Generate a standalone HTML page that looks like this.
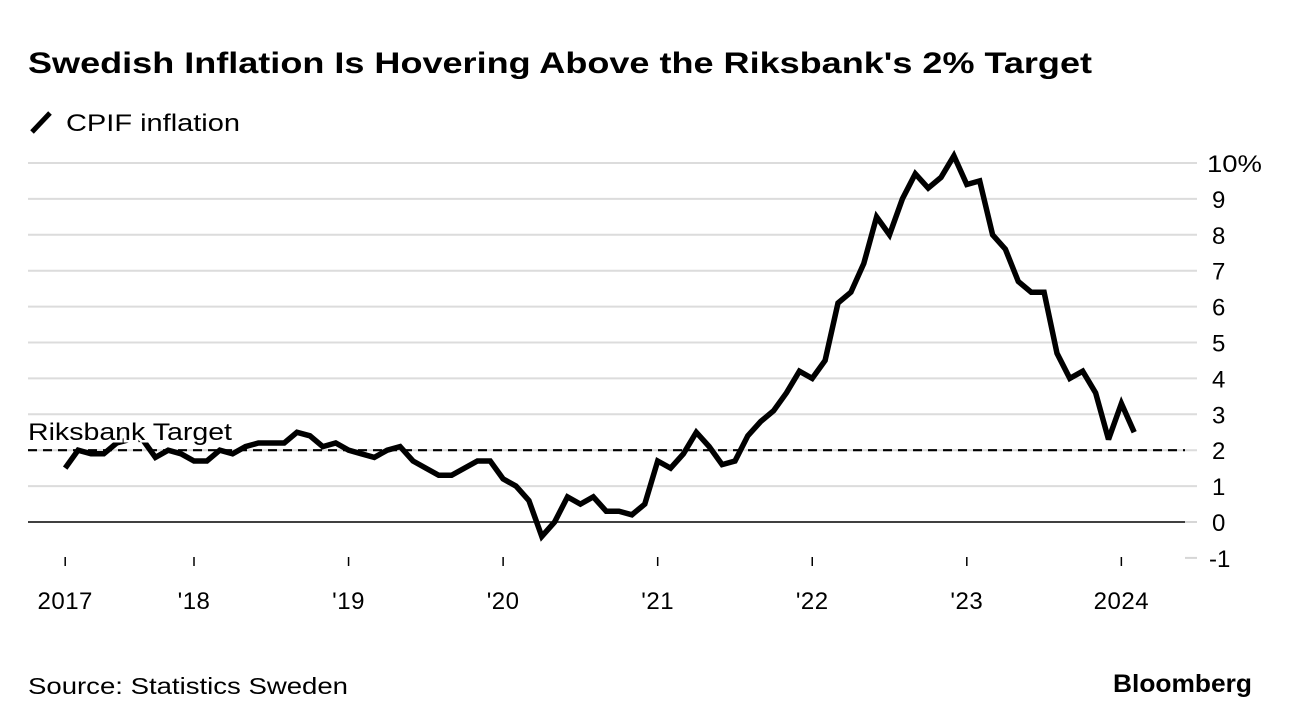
<!DOCTYPE html>
<html><head><meta charset="utf-8"><style>
body{margin:0;background:#fff;}
svg{display:block;font-family:"Liberation Sans",Arial,sans-serif;}
</style></head><body>
<svg id="chart" width="1292" height="726" viewBox="0 0 1292 726">
<text x="28" y="73" font-size="30" font-weight="bold" fill="#000" textLength="1064" lengthAdjust="spacingAndGlyphs">Swedish Inflation Is Hovering Above the Riksbank's 2% Target</text>
<line x1="32" y1="132" x2="50" y2="113" stroke="#000" stroke-width="5"/>
<text x="66" y="131" font-size="24" fill="#000" textLength="174" lengthAdjust="spacingAndGlyphs">CPIF inflation</text>
<g id="grid"></g>
<g id="yticks"></g>
<g id="xticks"></g>
<g id="series"></g>
<line id="target" x1="28" x2="1185" stroke="#000" stroke-width="2.2" stroke-dasharray="9,6"/>
<text id="targetLabel" x="28" y="440" font-size="24" fill="#000" stroke="#fff" stroke-width="5" paint-order="stroke" textLength="204" lengthAdjust="spacingAndGlyphs">Riksbank Target</text>
<text x="28" y="694" font-size="23" fill="#000" textLength="320" lengthAdjust="spacingAndGlyphs">Source: Statistics Sweden</text>
<text x="1113" y="692" font-size="25" font-weight="bold" fill="#000" textLength="139" lengthAdjust="spacingAndGlyphs">Bloomberg</text>
</svg>
<script>
const values = [1.5,2.0,1.9,1.9,2.2,2.3,2.3,1.8,2.0,1.9,
1.7,1.7,2.0,1.9,2.1,2.2,2.2,2.2,2.5,2.4,2.1,2.2,
2.0,1.9,1.8,2.0,2.1,1.7,1.5,1.3,1.3,1.5,1.7,1.7,
1.2,1.0,0.6,-0.4,0.0,0.7,0.5,0.7,0.3,0.3,0.2,0.5,
1.7,1.5,1.9,2.5,2.1,1.6,1.7,2.4,2.8,3.1,3.6,4.2,
4.0,4.5,6.1,6.4,7.2,8.5,8.0,9.0,9.7,9.3,9.6,10.2,
9.4,9.5,8.0,7.6,6.7,6.4,6.4,4.7,4.0,4.2,3.6,2.3,
3.3,2.5];
const startMonth = -10; // months relative to Jan 2018 (Mar 2017)
const yTicks = [-1,0,1,2,3,4,5,6,7,8,9,10];
const xTickMonths = [-10,0,12,24,36,48,60,72];
const xTickLabels = ["2017","'18","'19","'20","'21","'22","'23","2024"];
const targetValue = 2;

const NS="http://www.w3.org/2000/svg";
function x(m){return 194+m*12.88;}
function y(v){return 522-v*35.9;}
function mk(tag,attrs,parent){const e=document.createElementNS(NS,tag);for(const k in attrs)e.setAttribute(k,attrs[k]);document.getElementById(parent).appendChild(e);return e;}

yTicks.forEach(v=>{
  let l;
  if(v===-1){l=mk('line',{x1:1185,x2:1197,y1:y(v),y2:y(v),stroke:'#d6d6d6','stroke-width':2},'grid');}
  else if(v===0){
    mk('line',{x1:1185,x2:1197,y1:y(v),y2:y(v),stroke:'#d6d6d6','stroke-width':2},'grid');
    l=mk('line',{x1:28,x2:1185,y1:y(v),y2:y(v),stroke:'#000','stroke-width':1.5},'grid');}
  else l=mk('line',{x1:28,x2:1197,y1:y(v),y2:y(v),stroke:'#dcdcdc','stroke-width':2},'grid');
  
  
  const t=mk('text',{x:(v===10?1207:(v===-1?1209:1212)),y:y(v)+9,'font-size':24,fill:'#000'},'yticks');
  t.textContent = v===10 ? '10%' : String(v);
  if(v===10){t.setAttribute('textLength','55');t.setAttribute('lengthAdjust','spacingAndGlyphs');}
  
  
});
xTickMonths.forEach((m,i)=>{
  const tk=mk('line',{x1:x(m),x2:x(m),y1:557,y2:566,stroke:'#000','stroke-width':1.5},'xticks');
  
  
  const t=mk('text',{x:x(m),y:609,'font-size':24,fill:'#000','text-anchor':'middle','letter-spacing':'0.5'},'xticks');
  t.textContent=xTickLabels[i];
  
  
});
const pts=values.map((v,i)=>x(startMonth+i).toFixed(1)+','+y(v).toFixed(1)).join(' ');
const pl=mk('polyline',{points:pts,fill:'none',stroke:'#000','stroke-width':5.5,'stroke-linejoin':'miter','stroke-miterlimit':3},'series');


const tl=document.getElementById('target');
tl.setAttribute('y1',y(targetValue));tl.setAttribute('y2',y(targetValue));
document.getElementById('targetLabel').setAttribute('y',y(targetValue)-10);
</script>
</body></html>
